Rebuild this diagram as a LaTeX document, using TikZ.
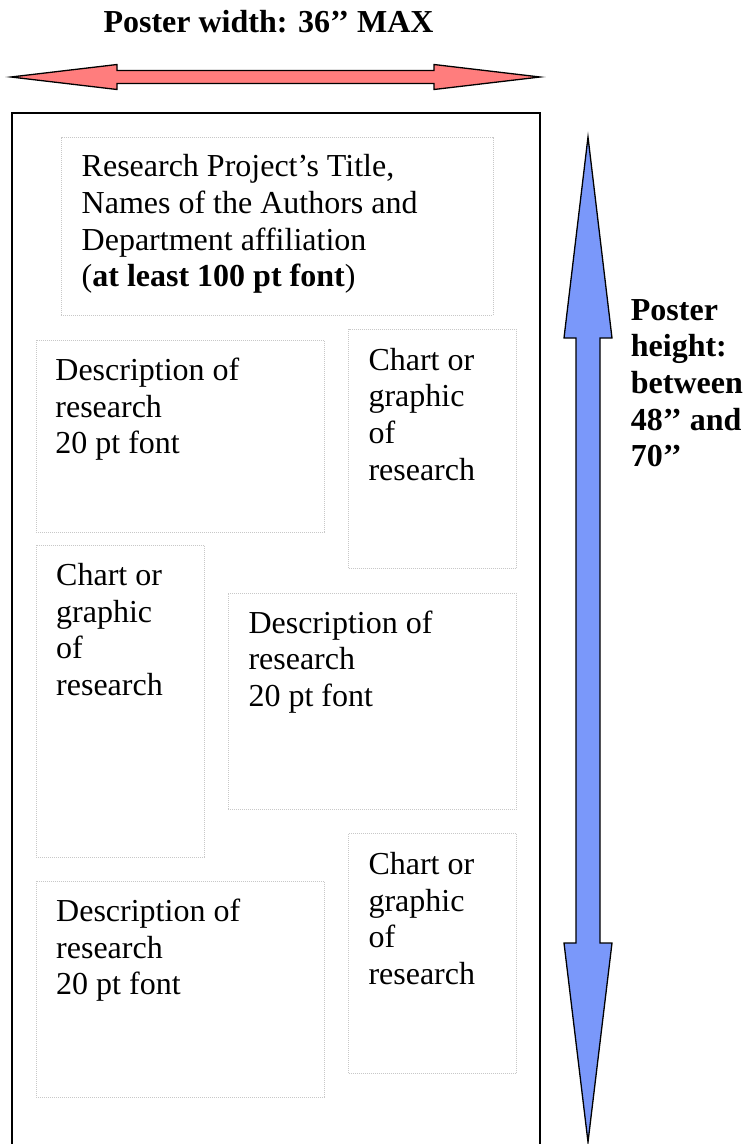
\documentclass[tikz,border=0pt]{standalone}
\usepackage{fontspec}
\setmainfont{Liberation Serif}
\definecolor{redfill}{RGB}{255,125,125}
\definecolor{bluefill}{RGB}{122,152,250}
\definecolor{dotgray}{RGB}{200,200,200}
\tikzset{
  pbox/.style={draw=dotgray, line width=0.8pt, dash pattern=on 1pt off 1pt, rectangle, inner sep=0pt, anchor=north west},
  lbl/.style={inner sep=0pt, anchor=base west, font=\fontsize{32}{36.7}\selectfont},
  boldlbl/.style={lbl, font=\fontsize{32}{36.7}\selectfont\bfseries},
  bigarrow/.style={draw=black, line width=1.3pt, line join=miter}
}
\begin{document}
\begin{tikzpicture}[x=1pt,y=-1pt]
\useasboundingbox (0,0) rectangle (746,1144);
\clip (0,0) rectangle (746,1144);
% heading
\node[boldlbl] (wlabel) at (103.3,32.3) {Poster width: 36’’ MAX};
% horizontal arrow
\filldraw[bigarrow, fill=redfill] (11,77) -- (117,64.5) -- (117,70.5) -- (434,70.5) -- (434,64.5) -- (540,77) -- (434,89.5) -- (434,83.5) -- (117,83.5) -- (117,89.5) -- cycle;
% outer poster frame
\draw[line width=2pt] (12,1150) -- (12,113) -- (540,113) -- (540,1150);
% vertical arrow
\filldraw[bigarrow, fill=bluefill] (588,137) -- (612,338) -- (600,338) -- (600,943) -- (612,943) -- (588,1142) -- (564,943) -- (576,943) -- (576,338) -- (564,338) -- cycle;
% height label
\node[boldlbl] (hlabel) at (630.7,320) {\parbox[t]{120pt}{Poster\\height:\\between\\48’’ and\\70’’}};
% boxes
\node[pbox, minimum width=432pt, minimum height=178.5pt] (title) at (60.5,136.5) {};
\node[pbox, minimum width=288.3pt, minimum height=191.7pt] (desc1) at (35.7,340) {};
\node[pbox, minimum width=167.7pt, minimum height=239.3pt] (chart1) at (348.3,329) {};
\node[pbox, minimum width=168.3pt, minimum height=311.7pt] (chart2) at (35.7,545) {};
\node[pbox, minimum width=288.3pt, minimum height=216.3pt] (desc2) at (227.7,592.7) {};
\node[pbox, minimum width=288.3pt, minimum height=215.7pt] (desc3) at (35.7,881) {};
\node[pbox, minimum width=167.7pt, minimum height=240pt] (chart3) at (348.3,833.3) {};
% texts
\node[lbl] (titletext) at ([shift={(21,40.3)}]title.north west) {\parbox[t]{420pt}{Research Project’s Title,\\Names of the Authors and\\Department affiliation\\(\textbf{at least 100 pt font})}};
\node[lbl] (desc1text) at ([shift={(19.5,40.3)}]desc1.north west) {\parbox[t]{260pt}{Description of\\research\\20 pt font}};
\node[lbl] (chart1text) at ([shift={(20,41)}]chart1.north west) {\parbox[t]{150pt}{Chart or\\graphic\\of\\research}};
\node[lbl] (chart2text) at ([shift={(20.3,40.3)}]chart2.north west) {\parbox[t]{150pt}{Chart or\\graphic\\of\\research}};
\node[lbl] (desc2text) at ([shift={(20.6,40.5)}]desc2.north west) {\parbox[t]{260pt}{Description of\\research\\20 pt font}};
\node[lbl] (desc3text) at ([shift={(20.3,40.5)}]desc3.north west) {\parbox[t]{260pt}{Description of\\research\\20 pt font}};
\node[lbl] (chart3text) at ([shift={(20,41)}]chart3.north west) {\parbox[t]{150pt}{Chart or\\graphic\\of\\research}};
\end{tikzpicture}
\end{document}
